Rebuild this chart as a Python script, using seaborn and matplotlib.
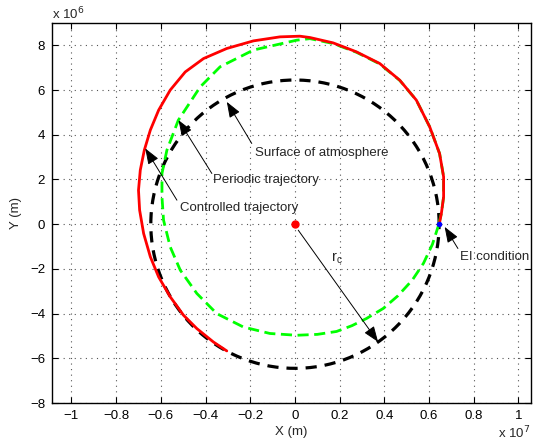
import numpy as np
import pandas as pd
import matplotlib
matplotlib.use("Agg")
import matplotlib.pyplot as plt
import seaborn as sns

# ---- data (units of 1e6 m) ----
atm_radius = 6.45                          # surface of atmosphere (circle about origin)
per_x = [6.44, 6.15, 5.75, 5.25, 4.61, 3.95, 3.20, 2.55, 1.86, 1.00, 0.07, -1.12, -2.31,
         -3.50, -4.39, -5.13, -5.58, -5.88, -5.95, -5.95, -5.73, -5.22, -4.24, -3.35,
         -1.86, 0.07, 0.67, 1.71, 2.75, 3.79, 4.69, 5.43, 6.03, 6.47, 6.65, 6.65, 6.55, 6.44]
per_y = [0.00, -0.90, -1.75, -2.50, -3.20, -3.77, -4.22, -4.54, -4.80, -4.93, -4.97, -4.89, -4.60,
         -4.00, -3.10, -2.06, -1.02, 0.18, 1.22, 2.27, 3.31, 4.65, 6.14, 7.04,
         7.79, 8.23, 8.30, 8.08, 7.69, 7.17, 6.43, 5.55, 4.35, 3.16, 2.12, 1.22, 0.48, 0.03]
ctrl_x = [-3.05, -3.65, -4.39, -4.99, -5.58, -6.10, -6.47, -6.77, -6.95, -7.00, -6.92,
          -6.74, -6.47, -6.10, -5.58, -4.91, -4.09, -3.05, -1.86, -0.67, 0.22, 0.67,
          1.71, 2.75, 3.79, 4.69, 5.43, 6.03, 6.47, 6.65, 6.65, 6.55, 6.46]
ctrl_y = [-5.67, -5.27, -4.67, -4.07, -3.25, -2.36, -1.46, -0.42, 0.63, 1.52, 2.42,
          3.31, 4.21, 5.10, 6.00, 6.81, 7.41, 7.86, 8.20, 8.38, 8.41, 8.35,
          8.11, 7.71, 7.19, 6.44, 5.55, 4.35, 3.16, 2.12, 1.22, 0.48, 0.02]
ei_point = [6.46, 0.0]
center_point = [0.0, 0.0]
x_ticks = [-1, -0.8, -0.6, -0.4, -0.2, 0, 0.2, 0.4, 0.6, 0.8, 1]   # x 10^7
y_ticks = [-8, -6, -4, -2, 0, 2, 4, 6, 8]                              # x 10^6

sns.set_theme(style="white")
plt.rcParams["font.family"] = ["Liberation Sans", "DejaVu Sans"]
fs = 9.5
M = 1e6

fig = plt.figure(figsize=(5.33, 4.46), dpi=100)
ax = fig.add_axes([52/533, 1-403/446, 479/533, 380/446])

th = np.linspace(0, 2*np.pi, 400)
atm = pd.DataFrame({"x": atm_radius*M*np.cos(th), "y": atm_radius*M*np.sin(th)})
per = pd.DataFrame({"x": np.array(per_x)*M, "y": np.array(per_y)*M})
ctrl = pd.DataFrame({"x": np.array(ctrl_x)*M, "y": np.array(ctrl_y)*M})

sns.lineplot(data=atm, x="x", y="y", sort=False, estimator=None, ax=ax,
             color="black", lw=2.3)
ax.lines[-1].set_dashes([3.5, 2.5])
sns.lineplot(data=per, x="x", y="y", sort=False, estimator=None, ax=ax,
             color=(0, 1, 0), lw=2.0)
ax.lines[-1].set_dashes([4, 2])
sns.lineplot(data=ctrl, x="x", y="y", sort=False, estimator=None, ax=ax,
             color=(1, 0, 0), lw=2.0)
ax.lines[-1].set_solid_joinstyle("round")
ax.plot([ei_point[0]*M], [ei_point[1]*M], marker="o", ms=3, color="blue", ls="none")
ax.plot([center_point[0]*M], [center_point[1]*M], marker="o", ms=5, color="red", ls="none")

ax.set_xlim(-10.87e6, 10.56e6)
ax.set_ylim(-8e6, 9e6)
ax.set_xticks([v*1e7 for v in x_ticks])
ax.set_xticklabels([("\u2212" + f"{abs(v):g}") if v < 0 else f"{v:g}" for v in x_ticks], fontsize=fs)
ax.set_yticks([v*1e6 for v in y_ticks])
ax.set_yticklabels([("\u2212" + f"{abs(v):g}") if v < 0 else f"{v:g}" for v in y_ticks], fontsize=fs)
ax.tick_params(direction="in", length=4, width=0.8, top=True, right=True,
               bottom=True, left=True, pad=5, colors="black")
ax.grid(True, ls=(0, (1, 4)), color="#555555", lw=0.8)
for s in ax.spines.values():
    s.set_color("black"); s.set_linewidth(1.0)
ax.set_xlabel("X (m)", fontsize=fs, labelpad=3)
ax.set_ylabel("Y (m)", fontsize=fs, labelpad=6)
fig.text(52/533, 1-14/446, "x 10$^6$", fontsize=fs, ha="left", va="center")
fig.text(530/533, 1-433/446, "x 10$^7$", fontsize=fs, ha="right", va="center")

def px(X, Y):
    return ((X-295)/22.4*1e6, (224-Y)/22.35*1e6)

arrow = dict(arrowstyle="-|>,head_length=0.8,head_width=0.3", color="black", lw=0.7,
             shrinkA=0, shrinkB=0)
def ann(head, tail, label_pos, label):
    ax.annotate("", xy=px(*head), xytext=px(*tail), arrowprops=arrow)
    if label:
        x, y = px(*label_pos)
        ax.text(x, y, label, fontsize=fs, ha="left", va="center")

ann((226.7, 101.7), (251.7, 143.3), (255, 152.7), "Surface of atmosphere")
ann((178.3, 120), (211.7, 173.3), (213.3, 180), "Periodic trajectory")
ann((145, 148.3), (176.7, 200), (179.3, 207.7), "Controlled trajectory")
ann((445, 226.7), (458.3, 248.3), (460, 256.7), "EI condition")
ann((378.3, 341.7), (298.3, 230), None, None)
x, y = px(331, 258)
ax.text(x, y, "r$_\\mathregular{c}$", fontsize=fs+1, ha="left", va="center")

fig.savefig("out.png", dpi=100)
